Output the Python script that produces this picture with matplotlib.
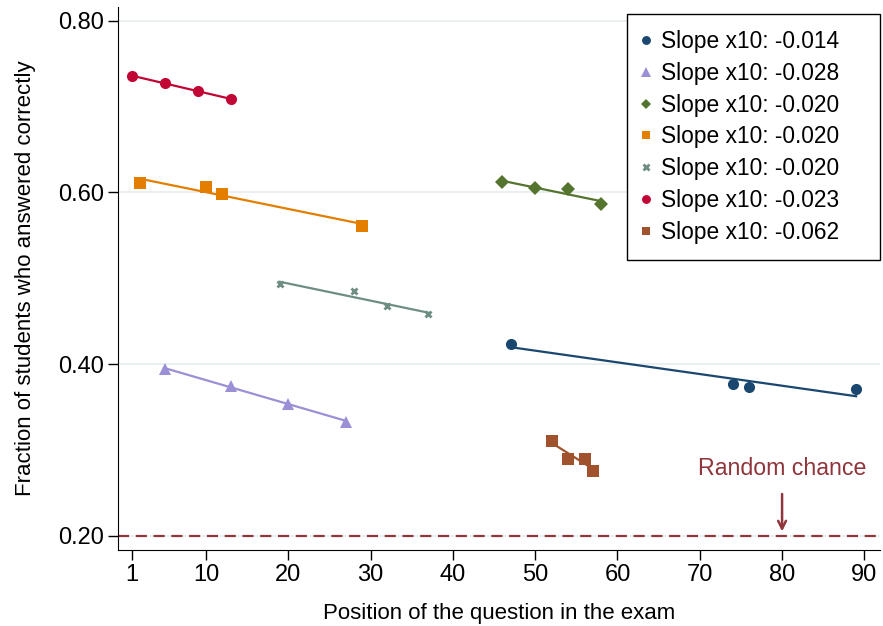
import matplotlib.pyplot as plt
import numpy as np

plt.rcParams['font.family'] = ['Liberation Sans', 'DejaVu Sans']

# position of each question in the exam, and fraction of correct answers
navy_x = [47, 74, 76, 89]
navy_y = [0.424, 0.377, 0.374, 0.371]
lav_x = [5, 13, 20, 27]
lav_y = [0.394, 0.375, 0.354, 0.333]
green_x = [46, 50, 54, 58]
green_y = [0.612, 0.605, 0.604, 0.586]
orange_x = [2, 10, 12, 29]
orange_y = [0.611, 0.606, 0.598, 0.561]
gray_x = [19, 28, 32, 37]
gray_y = [0.493, 0.485, 0.468, 0.458]
red_x = [1, 5, 9, 13]
red_y = [0.736, 0.727, 0.718, 0.709]
brown_x = [52, 54, 56, 57]
brown_y = [0.311, 0.290, 0.290, 0.276]

slope_labels = ['-0.014', '-0.028', '-0.020', '-0.020', '-0.020', '-0.023', '-0.062']

series = [
    (navy_x, navy_y, '#1a476f', 'o', 8),
    (lav_x, lav_y, '#9b8fd6', '^', 9),
    (green_x, green_y, '#55752f', 'D', 7),
    (orange_x, orange_y, '#e37e00', 's', 8),
    (gray_x, gray_y, '#6e8e84', 'x', 4),
    (red_x, red_y, '#c10534', 'o', 8),
    (brown_x, brown_y, '#a0522d', 's', 8),
]

fig = plt.figure(figsize=(8.83, 6.26), dpi=100)
ax = fig.add_axes([0.1336, 0.1214, 0.8630, 0.8674])

for (x, y, col, mk, ms), lab in zip(series, slope_labels):
    x = np.array(x)
    b, a = np.polyfit(x, y, 1)
    ax.plot([x.min(), x.max()], [a + b * x.min(), a + b * x.max()],
            color=col, lw=1.6, zorder=3)
    mew = 2 if mk == 'x' else 0
    ax.plot(x, y, ls='none', marker=mk, ms=ms, color=col, mew=mew,
            zorder=4, label='Slope x10: ' + lab)

rc = '#90353b'
ax.axhline(0.20, color=rc, ls=(0, (5, 3)), lw=1.6, zorder=2)
ax.annotate('', xy=(80, 0.202), xytext=(80, 0.252),
            arrowprops=dict(arrowstyle='->', color=rc, lw=1.8,
                            mutation_scale=14))
ax.text(80, 0.279, 'Random chance', color=rc, fontsize=16.7,
        ha='center', va='center')

ax.set_xlim(-0.7, 91.9)
ax.set_ylim(0.1836, 0.816)
ax.set_xticks([1, 10, 20, 30, 40, 50, 60, 70, 80, 90])
ax.set_yticks([0.2, 0.4, 0.6, 0.8])
ax.set_yticklabels(['%.2f' % v for v in [0.2, 0.4, 0.6, 0.8]])
ax.tick_params(labelsize=17, length=7, width=1, pad=3)
ax.grid(axis='y', color='#e6eef0', lw=1.2, zorder=0)
ax.spines['top'].set_visible(False)
ax.spines['right'].set_visible(False)
ax.set_xlabel('Position of the question in the exam', fontsize=16, labelpad=12)
ax.set_ylabel('Fraction of students who answered correctly', fontsize=16, labelpad=16)

leg = ax.legend(loc='upper left', mode='expand', fontsize=16.4, frameon=True,
                fancybox=False, edgecolor='black', framealpha=1,
                handlelength=0.3, handletextpad=0.5, labelspacing=0.385,
                borderpad=0.7, borderaxespad=0, markerscale=0.8,
                bbox_to_anchor=(0.668, 0.5525, 0.332, 0.4345))
leg.get_frame().set_linewidth(1)
for h in leg.legend_handles:
    if h.get_marker() == 'x':
        h.set_markersize(5)
        h.set_markeredgewidth(2)

fig.savefig('out.png', dpi=100)
